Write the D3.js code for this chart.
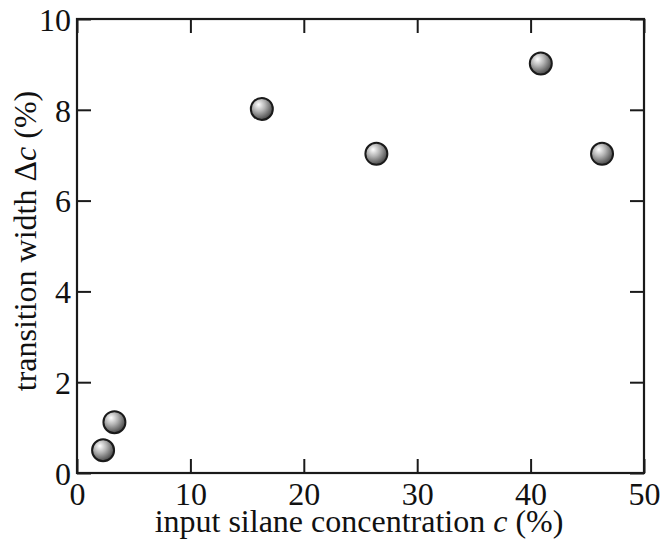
<!DOCTYPE html>
<html>
<head>
<meta charset="utf-8">
<script src="https://d3js.org/d3.v7.min.js"></script>
<style>
  body { margin: 0; background: #fff; }
  svg text { font-family: "Liberation Serif", "DejaVu Serif", serif; fill: #111; }
</style>
</head>
<body>
<div id="chart"></div>
<script>
// Data
const silane = [2.3, 3.3, 16.3, 26.4, 40.9, 46.3];
const width_dc = [0.5, 1.12, 8.02, 7.03, 9.02, 7.03];
const xTicks = [0, 10, 20, 30, 40, 50];
const yTicks = [0, 2, 4, 6, 8, 10];

const width = 664, height = 544;
const margin = { top: 19, right: 20, bottom: 71, left: 77 };
const innerWidth = width - margin.left - margin.right;
const innerHeight = height - margin.top - margin.bottom;

const svg = d3.select("#chart").append("svg")
  .attr("width", width).attr("height", height);

const defs = svg.append("defs");
const grad = defs.append("radialGradient")
  .attr("id", "ball").attr("cx", "38%").attr("cy", "35%").attr("r", "65%")
  .attr("fx", "35%").attr("fy", "30%");
grad.append("stop").attr("offset", "0%").attr("stop-color", "#ffffff");
grad.append("stop").attr("offset", "45%").attr("stop-color", "#b4b4b4");
grad.append("stop").attr("offset", "100%").attr("stop-color", "#4a4a4a");

const g = svg.append("g").attr("transform", `translate(${margin.left},${margin.top})`);

const x = d3.scaleLinear().domain([0, 50]).range([0, innerWidth]);
const y = d3.scaleLinear().domain([0, 10]).range([innerHeight, 0]);

const tickLen = 14;
const fs = 32;

// bottom axis
g.append("g").attr("transform", `translate(0,${innerHeight})`)
  .call(d3.axisBottom(x).tickValues(xTicks).tickSize(-tickLen).tickPadding(9).tickFormat(d3.format("d")))
  .call(a => a.select(".domain").remove())
  .call(a => a.selectAll("text").style("font-size", fs + "px").attr("dy", "0.71em"));
// top axis (ticks only)
g.append("g")
  .call(d3.axisTop(x).tickValues(xTicks).tickSize(-tickLen))
  .call(a => a.select(".domain").remove())
  .call(a => a.selectAll("text").remove());
// left axis
g.append("g")
  .call(d3.axisLeft(y).tickValues(yTicks).tickSize(-tickLen).tickPadding(6).tickFormat(d3.format("d")))
  .call(a => a.select(".domain").remove())
  .call(a => a.selectAll("text").style("font-size", fs + "px").attr("dy", "0.35em"));
// right axis (ticks only)
g.append("g").attr("transform", `translate(${innerWidth},0)`)
  .call(d3.axisRight(y).tickValues(yTicks).tickSize(-tickLen))
  .call(a => a.select(".domain").remove())
  .call(a => a.selectAll("text").remove());

g.selectAll(".tick line").attr("stroke", "#1a1a1a").attr("stroke-width", 2);
g.selectAll(".tick text").attr("fill", "#111");

// frame
g.append("rect")
  .attr("x", 0).attr("y", 0).attr("width", innerWidth).attr("height", innerHeight)
  .attr("fill", "none").attr("stroke", "#1a1a1a").attr("stroke-width", 2.2);

// points
g.selectAll("circle.pt")
  .data(silane.map((v, i) => ({ c: v, dc: width_dc[i] })))
  .enter().append("circle")
  .attr("class", "pt")
  .attr("cx", d => x(d.c))
  .attr("cy", d => y(d.dc))
  .attr("r", 11)
  .attr("fill", "url(#ball)")
  .attr("stroke", "#1a1a1a")
  .attr("stroke-width", 2);

// axis titles
const xt = svg.append("text")
  .attr("x", 359).attr("y", 532)
  .attr("text-anchor", "middle").style("font-size", fs + "px");
xt.append("tspan").text("input silane concentration ");
xt.append("tspan").style("font-style", "italic").text("c");
xt.append("tspan").text(" (%)");

const yt = svg.append("text")
  .attr("transform", "translate(36,241) rotate(-90)")
  .attr("text-anchor", "middle").style("font-size", fs + "px");
yt.append("tspan").text("transition width Δ");
yt.append("tspan").style("font-style", "italic").text("c");
yt.append("tspan").text(" (%)");
</script>
</body>
</html>
